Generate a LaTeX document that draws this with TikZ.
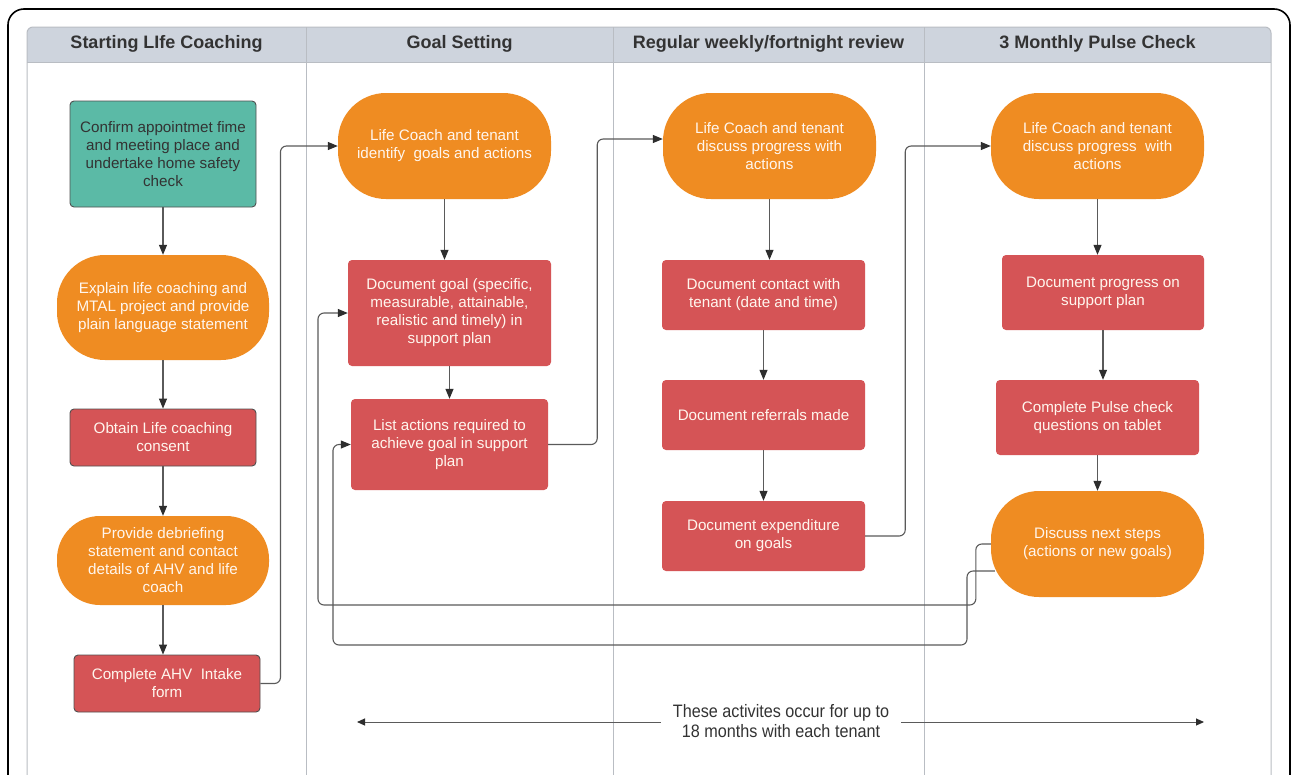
\documentclass[tikz,border=0pt]{standalone}
\usepackage{fontspec}
\setmainfont{Liberation Sans}
\newfontfamily\narrowfont[FakeStretch=0.9]{Liberation Sans}
\usetikzlibrary{arrows.meta,calc}
\definecolor{cHead}{HTML}{CED4DD}
\definecolor{cGrid}{HTML}{B9BDC3}
\definecolor{cTeal}{HTML}{5BBAA6}
\definecolor{cOrange}{HTML}{EF8C22}
\definecolor{cRed}{HTML}{D55456}
\definecolor{cBorder}{HTML}{505050}
\definecolor{cLine}{HTML}{5A5A5A}
\definecolor{cDark}{HTML}{333333}
\definecolor{cTip}{HTML}{2E2E2E}
\definecolor{cText}{HTML}{FFF6EE}
\begin{document}
\begin{tikzpicture}[x=1pt,y=-1pt,
  base/.style={align=center, inner sep=2pt, font=\fontsize{15.2}{18}\selectfont, text=cText},
  rbox/.style={base, rectangle, rounded corners=4pt, fill=cRed},
  rboxd/.style={rbox, draw=cBorder, line width=0.9pt},
  tbox/.style={base, rectangle, rounded corners=4pt, fill=cTeal, draw=cBorder, line width=0.9pt, text=cDark},
  obox/.style={base, rectangle, rounded corners=48pt, fill=cOrange},
  head/.style={font=\bfseries\fontsize{18}{21}\selectfont, text=cDark},
  conn/.style={draw=cLine, line width=1.1pt, rounded corners=6pt},
  arr/.style={conn, -{Triangle[length=10pt,width=8pt,color=cTip]}},
  thinarr/.style={draw=cLine, line width=1pt, -{Triangle[length=8pt,width=7pt,color=cTip]}}
]
\useasboundingbox (0,0) rectangle (1292,774);
\clip (0,0) rectangle (1292,774);
\fill[white] (0,0) rectangle (1292,774);
% outer frame
\draw[black, line width=1.6pt, rounded corners=16pt] (8,9) rectangle (1290,830);
% swimlane table
\fill[cHead, rounded corners=6pt] (27,27) rectangle (1271,62);
\fill[cHead] (27,45) rectangle (1271,62);
\draw[cGrid, line width=1pt, rounded corners=6pt] (27,800) -- (27,27) -- (1271,27) -- (1271,800);
\draw[cGrid, line width=1pt] (27,62) -- (1271,62);
\foreach \xx in {306,613,924} \draw[cGrid, line width=1pt] (\xx,27) -- (\xx,800);
\node[head] (h1) at (166.5,44) {Starting LIfe Coaching};
\node[head] (h2) at (459.5,44) {Goal Setting};
\node[head] (h3) at (768.5,44) {Regular weekly/fortnight review};
\node[head] (h4) at (1097.5,44) {3 Monthly Pulse Check};
% column 1
\node[tbox, minimum width=186pt, minimum height=106pt] (n1) at (163,154) {Confirm appointmet fime\\and meeting place and\\undertake home safety\\check};
\node[obox, minimum width=212pt, minimum height=105pt] (n2) at (163,307.5) {Explain life coaching and\\MTAL project and provide\\plain language statement};
\node[rboxd, minimum width=186pt, minimum height=57pt] (n3) at (163,437.5) {Obtain Life coaching\\consent};
\node[obox, rounded corners=43pt, minimum width=212pt, minimum height=89pt] (n4) at (163,560.5) {Provide debriefing\\statement and contact\\details of AHV and life\\coach};
\node[rboxd, minimum width=186pt, minimum height=57pt] (n5) at (167,683.5) {Complete AHV\ \ Intake\\form};
% column 2
\node[obox, minimum width=213pt, minimum height=106pt] (g1) at (444.5,146) {Life Coach and tenant\\identify\ \ goals and actions};
\node[rbox, minimum width=203pt, minimum height=106pt] (g2) at (449.5,313) {Document goal (specific,\\measurable, attainable,\\realistic and timely) in\\support plan};
\node[rbox, minimum width=197pt, minimum height=91pt] (g3) at (449.5,444.5) {List actions required to\\achieve goal in support\\plan};
% column 3
\node[obox, minimum width=213pt, minimum height=106pt] (r1) at (769.5,146) {Life Coach and tenant\\discuss progress with\\actions};
\node[rbox, minimum width=203pt, minimum height=70pt] (r2) at (763.5,295) {Document contact with\\tenant (date and time)};
\node[rbox, minimum width=203pt, minimum height=70pt] (r3) at (763.5,415) {Document referrals made};
\node[rbox, minimum width=203pt, minimum height=70pt] (r4) at (763.5,536) {Document expenditure\\on goals};
% column 4
\node[obox, minimum width=213pt, minimum height=106pt] (p1) at (1097.5,146) {Life Coach and tenant\\discuss progress\ \ with\\actions};
\node[rbox, minimum width=202pt, minimum height=75pt] (p2) at (1103,292.5) {Document progress on\\support plan};
\node[rbox, minimum width=203pt, minimum height=75pt] (p3) at (1097.5,417.5) {Complete Pulse check\\questions on tablet};
\node[obox, minimum width=213pt, minimum height=106pt] (p4) at (1097.5,544) {Discuss next steps\\(actions or new goals)};
% vertical flow arrows
\foreach \a/\b in {n1/n2,n2/n3,n3/n4,n4/n5,g1/g2,g2/g3,r1/r2,r2/r3,r3/r4,p1/p2,p2/p3,p3/p4}
  \draw[arr] (\a.south) -- (\a.south |- \b.north);
% cross-lane connectors
\draw[arr] (n5.east) -- ++(20,0) |- (g1.west);
\draw[arr] (g3.east) -- ++(49,0) |- ($(r1.west)+(0,-7)$);
\draw[arr] (r4.east) -- ++(40,0) |- (p1.west);
% feedback loops
\draw[arr] (p4.west) -- ++(-15,0) |- (318,605) |- (g2.west);
\draw[arr] ($(p4.west)+(4,27)$) -- (967,571) |- (333,645) |- (g3.west);
% duration note
\node[font=\narrowfont\fontsize{18}{20}\selectfont, text=cDark, align=center, inner xsep=12pt] (note) at (781,721) {These activites occur for up to\\18 months with each tenant};
\coordinate (lt) at (357,722);
\coordinate (rt) at (1204,722);
\draw[thinarr] (note.west |- lt) -- (lt);
\draw[thinarr] (note.east |- rt) -- (rt);
\end{tikzpicture}
\end{document}
